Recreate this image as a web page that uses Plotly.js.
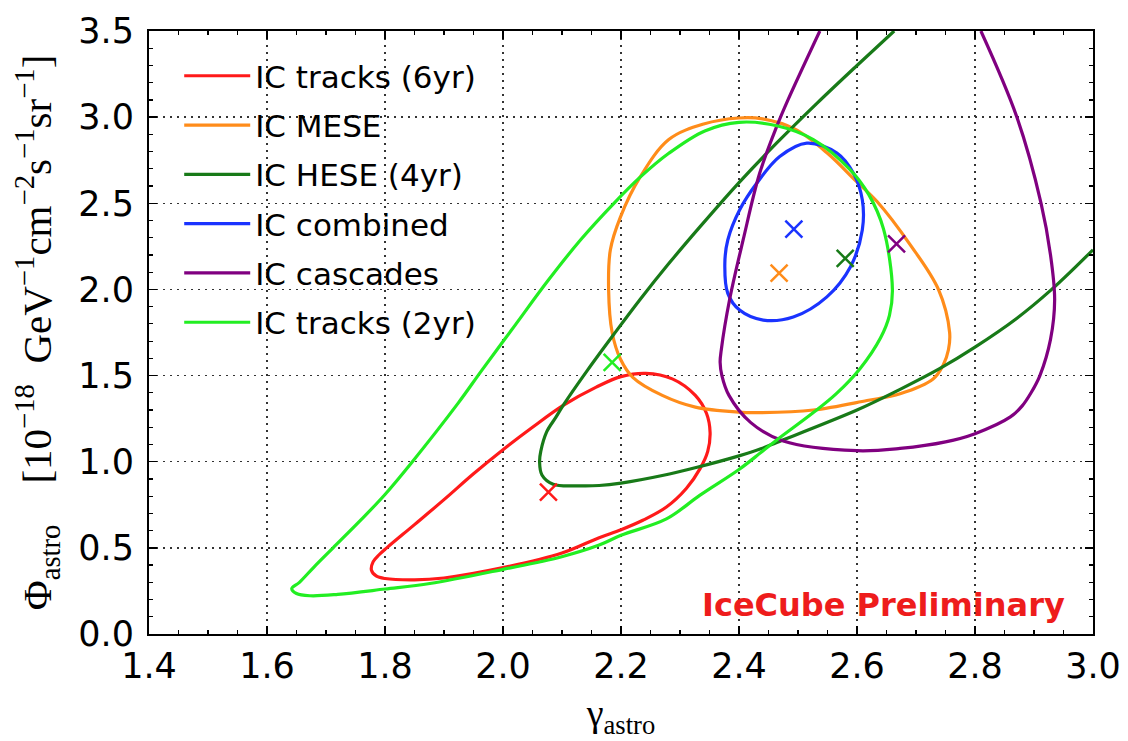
<!DOCTYPE html>
<html>
<head>
<meta charset="utf-8">
<script src="https://cdn.plot.ly/plotly-3.0.1.min.js"></script>
<style>html,body{margin:0;padding:0;background:#fff;}#chart{width:1128px;height:741px;}</style>
</head>
<body>
<div id="chart"></div>
<script>
// ---- data ----
const seriesNames = ["IC tracks (6yr)", "IC MESE", "IC HESE (4yr)", "IC combined", "IC cascades", "IC tracks (2yr)"];

const tracks6Gamma = [2.242, 2.287, 2.326, 2.345, 2.351, 2.347, 2.334, 2.311, 2.277, 2.237, 2.2, 2.163, 2.1, 2.0, 1.9, 1.85, 1.8, 1.785, 1.777, 1.78, 1.79, 1.803, 1.85, 1.9, 1.95, 2.0, 2.05, 2.102, 2.158, 2.2, 2.242];
const tracks6Phi   = [1.513, 1.481, 1.385, 1.28, 1.17, 1.06, 0.96, 0.846, 0.737, 0.66, 0.605, 0.559, 0.47, 0.385, 0.325, 0.314, 0.322, 0.337, 0.371, 0.42, 0.46, 0.50, 0.635, 0.78, 0.93, 1.07, 1.20, 1.327, 1.433, 1.494, 1.513];

const meseGamma = [2.4, 2.44, 2.495, 2.55, 2.598, 2.634, 2.69, 2.738, 2.757, 2.755, 2.746, 2.729, 2.673, 2.617, 2.526, 2.434, 2.399, 2.326, 2.27, 2.22, 2.199, 2.185, 2.179, 2.182, 2.199, 2.232, 2.281, 2.34, 2.4];
const mesePhi   = [2.995, 2.99, 2.93, 2.79, 2.63, 2.51, 2.26, 2.0, 1.75, 1.65, 1.56, 1.48, 1.394, 1.355, 1.30, 1.285, 1.288, 1.317, 1.385, 1.49, 1.596, 1.75, 2.0, 2.23, 2.42, 2.65, 2.87, 2.96, 2.995];

const heseGamma = [2.663, 2.6, 2.532, 2.464, 2.4, 2.333, 2.281, 2.232, 2.188, 2.143, 2.102, 2.09, 2.074, 2.064, 2.062, 2.066, 2.085, 2.13, 2.163, 2.2, 2.27, 2.329, 2.4, 2.437, 2.464, 2.6, 2.673, 2.74, 2.8, 2.87, 2.93, 3.0];
const hesePhi   = [3.5, 3.30, 3.08, 2.85, 2.62, 2.36, 2.15, 1.94, 1.74, 1.53, 1.327, 1.26, 1.173, 1.06, 1.0, 0.923, 0.869, 0.86, 0.862, 0.876, 0.92, 0.968, 1.034, 1.075, 1.112, 1.30, 1.42, 1.54, 1.665, 1.83, 2.0, 2.23];

const combinedGamma = [2.515, 2.566, 2.594, 2.609, 2.609, 2.589, 2.549, 2.492, 2.441, 2.401, 2.381, 2.376, 2.381, 2.401, 2.43, 2.469, 2.515];
const combinedPhi   = [2.849, 2.791, 2.674, 2.52, 2.345, 2.132, 1.957, 1.84, 1.822, 1.88, 1.977, 2.151, 2.287, 2.461, 2.616, 2.771, 2.849];

const cascadesGamma = [2.537, 2.483, 2.464, 2.435, 2.407, 2.384, 2.37, 2.368, 2.371, 2.383, 2.42, 2.475, 2.6, 2.673, 2.75, 2.8, 2.86, 2.88, 2.895, 2.91, 2.928, 2.935, 2.928, 2.912, 2.871, 2.81];
const cascadesPhi   = [3.5, 3.10, 2.946, 2.674, 2.287, 1.94, 1.65, 1.577, 1.5, 1.385, 1.227, 1.12, 1.064, 1.077, 1.115, 1.163, 1.26, 1.324, 1.40, 1.5, 1.71, 1.94, 2.2, 2.5, 3.0, 3.5];

const tracks2Gamma = [2.4, 2.464, 2.526, 2.587, 2.62, 2.645, 2.66, 2.655, 2.64, 2.605, 2.565, 2.526, 2.464, 2.437, 2.4, 2.334, 2.277, 2.2, 2.163, 2.098, 2.0, 1.876, 1.8, 1.72, 1.673, 1.65, 1.642, 1.655, 1.68, 1.712, 1.76, 1.8, 1.844, 1.924, 1.964, 2.02, 2.076, 2.132, 2.188, 2.232, 2.281, 2.342, 2.4];
const tracks2Phi   = [2.97, 2.95, 2.87, 2.70, 2.55, 2.35, 2.0, 1.85, 1.72, 1.54, 1.395, 1.285, 1.126, 1.053, 0.955, 0.806, 0.668, 0.573, 0.516, 0.447, 0.375, 0.293, 0.261, 0.23, 0.222, 0.235, 0.264, 0.30, 0.39, 0.50, 0.665, 0.81, 0.99, 1.34, 1.53, 1.79, 2.05, 2.29, 2.50, 2.65, 2.79, 2.92, 2.97];

// best-fit points, same order as seriesNames
const bestFitGamma = [2.077, 2.468, 2.58, 2.493, 2.667, 2.185];
const bestFitPhi   = [0.823, 2.095, 2.18, 2.35, 2.265, 1.577];

const xTickVals = [1.4, 1.6, 1.8, 2.0, 2.2, 2.4, 2.6, 2.8, 3.0];
const yTickVals = [0.0, 0.5, 1.0, 1.5, 2.0, 2.5, 3.0, 3.5];

// ---- styles ----
const colors = ["#ff1a1a", "#ff8c1a", "#187a18", "#1a33ff", "#800080", "#22ee22"];
const contours = [
  [tracks6Gamma, tracks6Phi],
  [meseGamma, mesePhi],
  [heseGamma, hesePhi],
  [combinedGamma, combinedPhi],
  [cascadesGamma, cascadesPhi],
  [tracks2Gamma, tracks2Phi]
];

const traces = [];
contours.forEach((c, i) => {
  traces.push({
    type: "scatter", mode: "lines", x: c[0], y: c[1], name: seriesNames[i],
    legendgroup: "g" + i,
    line: {color: colors[i], width: 3.2, shape: "spline", smoothing: 1},
    hoverinfo: "skip"
  });
});
bestFitGamma.forEach((g, i) => {
  traces.push({
    type: "scatter", mode: "markers", x: [g], y: [bestFitPhi[i]], showlegend: false,
    marker: {symbol: "x-thin", size: 17, line: {color: colors[i], width: 2.5}, color: colors[i]},
    hoverinfo: "skip"
  });
});

const axisCommon = {
  showline: true, linecolor: "black", linewidth: 2, mirror: "ticks",
  ticks: "inside", ticklen: 8, tickwidth: 1.5, tickcolor: "black",
  showgrid: true, gridcolor: "#333", gridwidth: 1.3, griddash: "2px,5px",
  zeroline: false,
  tickfont: {family: "DejaVu Sans", size: 35, color: "black"}
};

const layout = {
  width: 1128, height: 741,
  margin: {l: 149, r: 35, t: 31, b: 107},
  paper_bgcolor: "white", plot_bgcolor: "white",
  showlegend: true,
  legend: {
    x: 0.032, y: 0.97, xanchor: "left", yanchor: "top",
    bgcolor: "rgba(0,0,0,0)", borderwidth: 0,
    font: {family: "DejaVu Sans", size: 31, color: "black"},
    traceorder: "grouped", tracegroupgap: 6, itemwidth: 66
  },
  xaxis: Object.assign({}, axisCommon, {
    range: [1.4, 3.0], tickvals: xTickVals, tickformat: ".1f",
    minor: {dtick: 0.05, ticks: "inside", ticklen: 4, tickcolor: "black", tickwidth: 1.2, showgrid: false},
    title: {text: "γ<sub>astro</sub>", font: {family: "Liberation Serif", size: 38, color: "black"}, standoff: 14}
  }),
  yaxis: Object.assign({}, axisCommon, {
    range: [0, 3.5], tickvals: yTickVals, tickformat: ".1f", ticklabelstandoff: 6,
    minor: {dtick: 0.1, ticks: "inside", ticklen: 4, tickcolor: "black", tickwidth: 1.2, showgrid: false},
    title: {text: "Φ<sub>astro</sub>    [10<sup>−18</sup>  GeV<sup>−1</sup>cm<sup>−2</sup>s<sup>−1</sup>sr<sup>−1</sup>]",
            font: {family: "Liberation Serif", size: 41, color: "black"}, standoff: 14}
  }),
  annotations: [{
    xref: "paper", yref: "paper", x: 0.9725, y: 0.048, xanchor: "right", yanchor: "middle",
    text: "<b>IceCube Preliminary</b>", showarrow: false,
    font: {family: "DejaVu Sans", size: 32, color: "#ee1c1c"}
  }]
};

Plotly.newPlot("chart", traces, layout, {displayModeBar: false, staticPlot: true});
</script>
</body>
</html>
